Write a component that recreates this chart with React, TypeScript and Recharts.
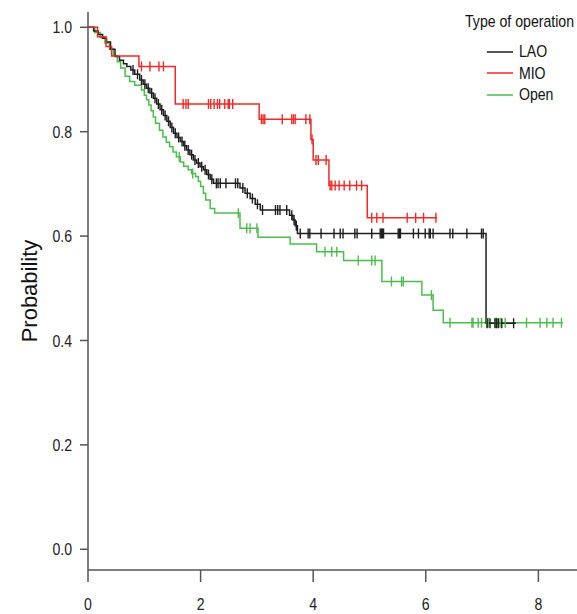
import { ComposedChart, Line, Scatter, XAxis, YAxis } from 'recharts'

// Kaplan-Meier steps (years, survival probability)
const LAO_TIME = [0, 0.10, 0.18, 0.26, 0.33, 0.40, 0.48, 0.56, 0.63, 0.69, 0.76, 0.83, 0.92, 0.98, 1.04, 1.10, 1.16, 1.22, 1.28, 1.34, 1.40, 1.46, 1.52, 1.58, 1.64, 1.70, 1.75, 1.81, 1.87, 1.93, 1.99, 2.05, 2.11, 2.17, 2.23, 2.70, 2.79, 2.88, 2.97, 3.06, 3.58, 3.64, 3.68, 3.72, 7.07, 7.60]
const LAO_SURV = [1.0, 0.993, 0.986, 0.979, 0.972, 0.958, 0.944, 0.937, 0.930, 0.925, 0.918, 0.910, 0.899, 0.891, 0.883, 0.874, 0.864, 0.853, 0.842, 0.831, 0.820, 0.808, 0.797, 0.789, 0.781, 0.773, 0.765, 0.756, 0.746, 0.740, 0.733, 0.727, 0.718, 0.709, 0.701, 0.692, 0.682, 0.672, 0.661, 0.650, 0.640, 0.631, 0.620, 0.605, 0.433, 0.433]
const LAO_CENSOR = [0.80, 0.88, 0.95, 1.01, 1.07, 1.13, 1.19, 1.25, 1.31, 1.37, 1.43, 1.49, 1.55, 1.61, 1.67, 1.72, 1.78, 1.84, 1.90, 1.96, 2.02, 2.08, 2.14, 2.20, 2.28, 2.31, 2.35, 2.45, 2.62, 2.66, 2.75, 2.83, 2.92, 3.01, 3.10, 3.33, 3.37, 3.41, 3.53, 3.62, 3.66, 3.70, 3.77, 3.91, 3.94, 4.14, 4.37, 4.48, 4.53, 4.74, 4.78, 5.04, 5.19, 5.21, 5.23, 5.25, 5.51, 5.53, 5.55, 5.78, 5.87, 5.99, 6.06, 6.08, 6.13, 6.43, 6.48, 6.73, 6.99, 7.02, 7.09, 7.14, 7.23, 7.26, 7.29, 7.35, 7.56]

const MIO_TIME = [0, 0.17, 0.32, 0.42, 0.905, 1.55, 3.04, 3.96, 4.00, 4.28, 4.96, 6.20]
const MIO_SURV = [1.0, 0.982, 0.963, 0.945, 0.925, 0.853, 0.824, 0.785, 0.746, 0.697, 0.635, 0.635]
const MIO_CENSOR = [0.95, 1.10, 1.26, 1.34, 1.69, 1.74, 1.78, 2.14, 2.18, 2.24, 2.30, 2.34, 2.43, 2.49, 2.51, 2.57, 3.08, 3.11, 3.14, 3.45, 3.62, 3.65, 3.68, 3.87, 3.94, 3.98, 4.05, 4.09, 4.23, 4.30, 4.33, 4.39, 4.46, 4.55, 4.65, 4.77, 4.86, 5.04, 5.13, 5.24, 5.67, 5.82, 5.96, 6.18]

const OPEN_TIME = [0, 0.12, 0.22, 0.30, 0.38, 0.45, 0.52, 0.58, 0.66, 0.74, 0.83, 0.95, 1.00, 1.04, 1.08, 1.12, 1.16, 1.20, 1.27, 1.33, 1.39, 1.45, 1.51, 1.57, 1.64, 1.70, 1.78, 1.84, 1.91, 1.96, 2.00, 2.05, 2.09, 2.17, 2.25, 2.70, 3.02, 3.59, 4.06, 4.54, 5.22, 5.93, 6.13, 6.31, 8.44]
const OPEN_SURV = [1.0, 0.99, 0.98, 0.97, 0.958, 0.946, 0.934, 0.922, 0.906, 0.896, 0.889, 0.880, 0.870, 0.861, 0.851, 0.840, 0.828, 0.816, 0.803, 0.790, 0.780, 0.771, 0.761, 0.752, 0.742, 0.734, 0.727, 0.720, 0.714, 0.705, 0.695, 0.682, 0.669, 0.653, 0.644, 0.615, 0.598, 0.585, 0.570, 0.553, 0.513, 0.487, 0.458, 0.434, 0.434]
const OPEN_CENSOR = [1.62, 1.86, 2.67, 2.82, 2.88, 3.00, 4.21, 4.33, 4.42, 4.80, 5.04, 5.10, 5.39, 5.57, 5.60, 6.10, 6.43, 6.82, 6.84, 6.93, 6.99, 7.08, 7.11, 7.23, 7.26, 7.32, 7.41, 7.79, 8.03, 8.15, 8.26, 8.41]

const X_TICKS = [0, 2, 4, 6, 8]
const Y_TICKS = [0, 0.2, 0.4, 0.6, 0.8, 1.0]

const COLORS = {
  LAO: '#1e1e1e',
  MIO: '#f02828',
  Open: '#4cbd4c',
}

const SANS = "'Liberation Sans', Arial, sans-serif"
const AXIS = '#555'
const SQUEEZE = 0.83 // the original lettering is condensed

function toSteps(time: number[], surv: number[]) {
  return time.map((t, i) => ({ t, p: surv[i] }))
}

// each censored time sits on the curve level in force at that time
function toCensors(time: number[], surv: number[], censor: number[]) {
  return censor.map(c => {
    let p = surv[0]
    for (let i = 0; i < time.length; i++) if (time[i] <= c) p = surv[i]
    return { t: c, p }
  })
}

const SERIES = [
  { name: 'Open', color: COLORS.Open, steps: toSteps(OPEN_TIME, OPEN_SURV), censors: toCensors(OPEN_TIME, OPEN_SURV, OPEN_CENSOR) },
  { name: 'LAO', color: COLORS.LAO, steps: toSteps(LAO_TIME, LAO_SURV), censors: toCensors(LAO_TIME, LAO_SURV, LAO_CENSOR) },
  { name: 'MIO', color: COLORS.MIO, steps: toSteps(MIO_TIME, MIO_SURV), censors: toCensors(MIO_TIME, MIO_SURV, MIO_CENSOR) },
]

const censorMark = (color: string) => (props: any) => (
  <line x1={props.cx} x2={props.cx} y1={props.cy - 5} y2={props.cy + 5} stroke={color} strokeWidth={1.4} />
)

const NarrowTick = (anchor: 'middle' | 'end') => (props: any) => {
  const { x, y, payload } = props
  const label = anchor === 'end' ? payload.value.toFixed(1) : String(payload.value)
  return (
    <g transform={`translate(${x},${y}) scale(${SQUEEZE},1)`}>
      <text x={0} y={0} dy={anchor === 'end' ? '0.355em' : '0.71em'} textAnchor={anchor} fontSize={17} fontFamily={SANS} fill="#222">
        {label}
      </text>
    </g>
  )
}

function LegendBox() {
  const items = ['LAO', 'MIO', 'Open'] as const
  return (
    <div
      style={{
        position: 'absolute', left: 465, top: 13, fontFamily: SANS, fontSize: 17, color: '#111', lineHeight: 1,
        transform: `scaleX(${SQUEEZE})`, transformOrigin: '0 0', width: 140,
      }}
    >
      <div style={{ whiteSpace: 'nowrap' }}>Type of operation</div>
      {items.map((k, i) => (
        <div key={k} style={{ position: 'absolute', left: 26, top: 30 + i * 21.5, display: 'flex', alignItems: 'center', whiteSpace: 'nowrap' }}>
          <svg width={32} height={4} style={{ marginRight: 7 }}>
            <line x1={0} x2={32} y1={2} y2={2} stroke={COLORS[k]} strokeWidth={1.6} />
          </svg>
          <span>{k}</span>
        </div>
      ))}
    </div>
  )
}

export default function App() {
  return (
    <div style={{ position: 'absolute', left: 0, top: 0, width: 577, height: 614, background: '#fff' }}>
      <ComposedChart width={577} height={614} margin={{ top: 12, right: 0, bottom: 0, left: 28 }}>
        <XAxis
          dataKey="t"
          type="number"
          domain={[0, 8.686]}
          ticks={X_TICKS}
          allowDataOverflow
          height={44}
          tickSize={12}
          tickMargin={16}
          axisLine={{ stroke: AXIS, strokeWidth: 1.5 }}
          tickLine={{ stroke: AXIS, strokeWidth: 1.5 }}
          tick={NarrowTick('middle')}
        />
        <YAxis
          dataKey="p"
          type="number"
          domain={[-0.0397, 1.0293]}
          ticks={Y_TICKS}
          allowDataOverflow
          width={60}
          tickSize={8}
          tickMargin={8}
          axisLine={{ stroke: AXIS, strokeWidth: 1.5 }}
          tickLine={{ stroke: AXIS, strokeWidth: 1.5 }}
          tick={NarrowTick('end')}
          label={{
            content: (p: any) => {
              const vb = p.viewBox
              const x = vb.x + 9
              const y = vb.y + vb.height / 2
              return (
                <text x={x} y={y} transform={`rotate(-90 ${x} ${y})`} textAnchor="middle" fontSize={22} fontFamily={SANS} fill="#111">
                  Probability
                </text>
              )
            },
          }}
        />
        {SERIES.map(s => (
          <Line
            key={s.name}
            data={s.steps}
            dataKey="p"
            type="stepAfter"
            stroke={s.color}
            strokeWidth={1.5}
            dot={false}
            activeDot={false}
            isAnimationActive={false}
          />
        ))}
        {SERIES.map(s => (
          <Scatter
            key={s.name + '-c'}
            data={s.censors}
            dataKey="p"
            shape={censorMark(s.color)}
            isAnimationActive={false}
          />
        ))}
      </ComposedChart>
      <LegendBox />
    </div>
  )
}
